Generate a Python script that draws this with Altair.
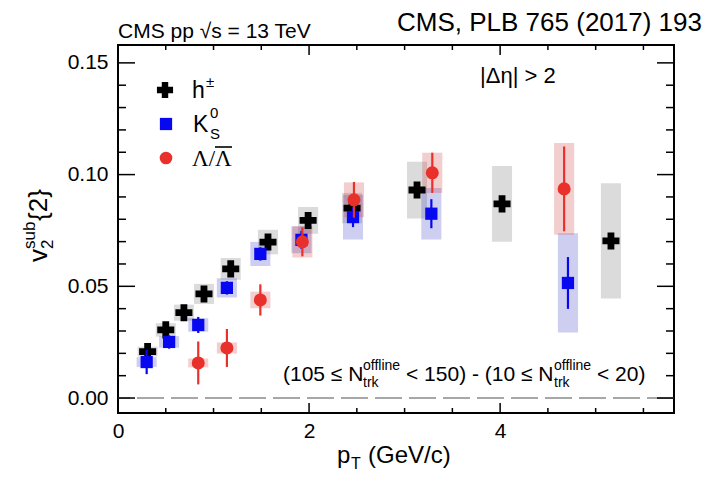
import altair as alt
import pandas as pd

# ---------------- data ----------------
H_PT = [0.31, 0.50, 0.69, 0.90, 1.18, 1.57, 1.99, 2.45, 3.13, 4.02, 5.16]
H_V2 = [0.0208, 0.0305, 0.0382, 0.0466, 0.0578, 0.0698, 0.0795, 0.0850, 0.0931, 0.0869, 0.0703]
H_STAT = [0.0004, 0.0004, 0.0004, 0.0005, 0.0005, 0.0006, 0.0007, 0.0008, 0.0010, 0.0015, 0.0022]
H_SYS = [0.0022, 0.0030, 0.0036, 0.0045, 0.0049, 0.0055, 0.0060, 0.0068, 0.0127, 0.0170, 0.0258]

K_PT = [0.30, 0.535, 0.84, 1.14, 1.49, 1.92, 2.46, 3.28, 4.71]
K_V2 = [0.0161, 0.0251, 0.0327, 0.0493, 0.0645, 0.0708, 0.0810, 0.0825, 0.0515]
K_STAT = [0.0054, 0.0030, 0.0036, 0.0030, 0.0030, 0.0040, 0.0045, 0.0065, 0.0116]
K_SYS = [0.0022, 0.0026, 0.0030, 0.0043, 0.0054, 0.0060, 0.0100, 0.0115, 0.0222]

L_PT = [0.84, 1.14, 1.49, 1.93, 2.47, 3.29, 4.67]
L_V2 = [0.0157, 0.0224, 0.0439, 0.0699, 0.0887, 0.1008, 0.0936]
L_STAT = [0.0096, 0.0085, 0.0070, 0.0065, 0.0080, 0.0090, 0.0190]
L_SYS = [0.0020, 0.0025, 0.0037, 0.0070, 0.0078, 0.0090, 0.0205]

X_MAJOR = [0, 2, 4]
X_MINOR = [0.5, 1, 1.5, 2.5, 3, 3.5, 4.5, 5, 5.5]
Y_MAJOR = [0.0, 0.05, 0.10, 0.15]
Y_MINOR = [0.01, 0.02, 0.03, 0.04, 0.06, 0.07, 0.08, 0.09, 0.11, 0.12, 0.13, 0.14]
ZERO = [0.0]

# ---------------- layout / style ----------------
W, H = 556, 368
PADL, PADT = 118, 45
BOXW = 0.105
SANS = "Liberation Sans"
SERIF = "Liberation Serif"
BLACK, BLUE, RED = "#000000", "#0808f0", "#e8312a"

xs = alt.Scale(domain=[0, 5.82], nice=False, zero=False)
ys = alt.Scale(domain=[-0.0067, 0.158], nice=False, zero=False)
AX = alt.Axis(values=X_MAJOR, ticks=False, domain=False, grid=False, labelFontSize=21,
              labelPadding=7, title=None, format="d", labelFlush=False, labelOverlap=False,
              labelFont=SANS, labelColor="black")
AY = alt.Axis(values=Y_MAJOR, ticks=False, domain=False, grid=False, labelFontSize=21,
              labelPadding=10, title=None, format=".2f", labelFlush=False, labelOverlap=False,
              labelFont=SANS, labelColor="black")


def frame(pt, v2, stat, sys):
    df = pd.DataFrame({"pt": pt, "v2": v2, "stat": stat, "sys": sys})
    df["x1"] = df["pt"] - BOXW
    df["x2"] = df["pt"] + BOXW
    df["slo"] = df["v2"] - df["stat"]
    df["shi"] = df["v2"] + df["stat"]
    df["blo"] = df["v2"] - df["sys"]
    df["bhi"] = df["v2"] + df["sys"]
    return df


dh = frame(H_PT, H_V2, H_STAT, H_SYS)
dk = frame(K_PT, K_V2, K_STAT, K_SYS)
dl = frame(L_PT, L_V2, L_STAT, L_SYS)


def boxes(df, color, op):
    return alt.Chart(df).mark_rect(color=color, opacity=op).encode(
        x=alt.X("x1:Q", scale=xs, axis=AX), x2="x2:Q",
        y=alt.Y("blo:Q", scale=ys, axis=AY), y2="bhi:Q")


def errs(df, color):
    return alt.Chart(df).mark_rule(color=color, strokeWidth=2.2).encode(
        x=alt.X("pt:Q", scale=xs, axis=AX),
        y=alt.Y("slo:Q", scale=ys, axis=AY), y2="shi:Q")


def pts(df, shape, size, color):
    return alt.Chart(df).mark_point(shape=shape, size=size, filled=True, opacity=1,
                                    color=color, strokeWidth=0).encode(
        x=alt.X("pt:Q", scale=xs, axis=AX), y=alt.Y("v2:Q", scale=ys, axis=AY))


_one = pd.DataFrame({"k": [0]})


def txt(s, px, py, size, font=SANS, align="left", angle=None, color="black"):
    kw = dict(text=s, fontSize=size, font=font, align=align, baseline="alphabetic", color=color)
    if angle is not None:
        kw["angle"] = angle
    return alt.Chart(_one).mark_text(**kw).encode(x=alt.value(px - PADL), y=alt.value(py - PADT))


def legpt(shape, size, color, px, py):
    return alt.Chart(_one).mark_point(shape=shape, size=size, filled=True, opacity=1,
                                      color=color, strokeWidth=0).encode(
        x=alt.value(px - PADL), y=alt.value(py - PADT))


def hline(px1, px2, py, width=1.5):
    return alt.Chart(_one).mark_rule(color="black", strokeWidth=width).encode(
        x=alt.value(px1 - PADL), x2=alt.value(px2 - PADL), y=alt.value(py - PADT))


def xticks(vals, length):
    d = pd.DataFrame({"t": vals})
    bot = alt.Chart(d).mark_rule(color="black", strokeWidth=1.5).encode(
        x=alt.X("t:Q", scale=xs, axis=AX), y=alt.value(H), y2=alt.value(H - length))
    top = alt.Chart(d).mark_rule(color="black", strokeWidth=1.5).encode(
        x=alt.X("t:Q", scale=xs, axis=AX), y=alt.value(0), y2=alt.value(length))
    return [bot, top]


def yticks(vals, length):
    d = pd.DataFrame({"t": vals})
    left = alt.Chart(d).mark_rule(color="black", strokeWidth=1.5).encode(
        y=alt.Y("t:Q", scale=ys, axis=AY), x=alt.value(0), x2=alt.value(length))
    right = alt.Chart(d).mark_rule(color="black", strokeWidth=1.5).encode(
        y=alt.Y("t:Q", scale=ys, axis=AY), x=alt.value(W), x2=alt.value(W - length))
    return [left, right]


zero = alt.Chart(pd.DataFrame({"z": ZERO})).mark_rule(
    color="#8a8a8a", strokeWidth=1.5, strokeDash=[27, 7]).encode(
    y=alt.Y("z:Q", scale=ys, axis=AY))

layers = [
    zero,
    boxes(dh, "#000000", 0.14),
    boxes(dk, "#2020c0", 0.22),
    boxes(dl, "#cc3333", 0.24),
    errs(dh, BLACK), pts(dh, "cross", 290, BLACK),
    errs(dk, BLUE), pts(dk, "square", 150, BLUE),
    errs(dl, RED), pts(dl, "circle", 170, RED),
]
layers += xticks(X_MAJOR, 10) + xticks(X_MINOR, 5)
layers += yticks(Y_MAJOR, 17) + yticks(Y_MINOR, 8)

# legend
layers += [
    legpt("cross", 260, BLACK, 165, 90),
    legpt("square", 150, BLUE, 166, 124),
    legpt("circle", 160, RED, 166, 158),
    txt("h", 192, 98, 23), txt("±", 206, 87, 15),
    txt("K", 193, 132, 23), txt("0", 210, 118, 15), txt("S", 210, 139, 15),
    txt("Λ/Λ", 192, 166, 23, font=SERIF),
    hline(215, 232, 147, 1.6),
]

# annotations
layers += [
    txt("CMS pp √s = 13 TeV", 118, 38, 21),
    txt("CMS, PLB 765 (2017) 193", 702, 31, 26, align="right"),
    txt("|Δη| > 2", 480, 83, 22),
    txt("(105 ≤ N", 283, 381, 21),
    txt("offline", 363, 370, 14), txt("trk", 363, 387, 14),
    txt("< 150) - (10 ≤ N", 406, 381, 21),
    txt("offline", 554, 370, 14), txt("trk", 554, 387, 14),
    txt("< 20)", 597, 381, 21),
    # x title
    txt("p", 337, 463, 24), txt("T", 351, 469, 16), txt("(GeV/c)", 368, 463, 24),
    # y title (rotated)
    txt("v", 47, 262, 26, angle=270), txt("2", 53, 249, 17, angle=270),
    txt("sub", 35, 249, 17, angle=270), txt("{2}", 47, 221, 26, angle=270),
]

chart = alt.layer(*layers).properties(
    width=W, height=H,
    padding={"left": PADL, "top": PADT, "right": 706 - PADL - W, "bottom": 481 - PADT - H},
    autosize=alt.AutoSizeParams(type="none"),
    background="white",
).configure_view(stroke="black", strokeWidth=2)

chart.save("out.html", embed_options={"renderer": "svg", "actions": False})
